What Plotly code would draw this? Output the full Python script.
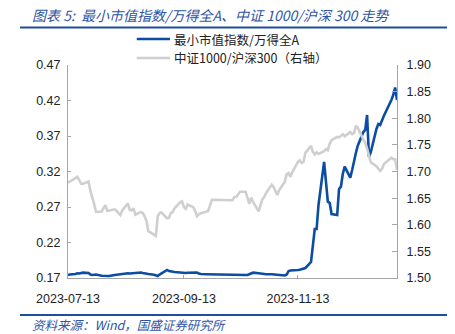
import pandas as pd
import plotly.graph_objects as go

# Trading calendar: weekdays from 2023-07-13 to 2024-01-05, minus exchange holidays
holidays = ["2023-09-29", "2023-10-02", "2023-10-03", "2023-10-04",
            "2023-10-05", "2023-10-06", "2024-01-01"]
dates = [d for d in pd.bdate_range("2023-07-13", "2024-01-05")
         if d.strftime("%Y-%m-%d") not in holidays]

# 最小市值指数/万得全A (left axis)
ratio_small = [
    0.1742, 0.1749, 0.1756, 0.1766, 0.1763, 0.1770, 0.1775, 0.1770, 0.1749, 0.1742, 0.1742, 0.1749, 0.1732,
    0.1732, 0.1728, 0.1728, 0.1728, 0.1742, 0.1746, 0.1749, 0.1753, 0.1756, 0.1766, 0.1763, 0.1766, 0.1770,
    0.1777, 0.1777, 0.1770, 0.1763, 0.1761, 0.1756, 0.1746, 0.1735, 0.1728, 0.1749,
    0.1766, 0.1813, 0.1798, 0.1791, 0.1789, 0.1784, 0.1777, 0.1773, 0.1766, 0.1770, 0.1775, 0.1780, 0.1780,
    0.1777, 0.1763, 0.1756, 0.1753, 0.1752, 0.1752, 0.1752,
    0.1745, 0.1742, 0.1742, 0.1738, 0.1738, 0.1742, 0.1742, 0.1756, 0.1770, 0.1775, 0.1766, 0.1761, 0.1756,
    0.1756, 0.1753, 0.1752, 0.1749,
    0.1749, 0.1752, 0.1745, 0.1735, 0.1749, 0.1798, 0.1806, 0.1806, 0.1813, 0.1817, 0.1827, 0.1834, 0.1841,
    0.1925, 0.2179, 0.2390, 0.2390, 0.2728, 0.3334, 0.3010, 0.2775, 0.2756,
    0.2601, 0.2587, 0.2954, 0.2986, 0.3165, 0.3268, 0.3113, 0.3221, 0.3362, 0.3461, 0.3563, 0.3756, 0.3785,
    0.3996, 0.3404, 0.3475, 0.3799, 0.3869, 0.3855, 0.3925, 0.3986,
    0.4207, 0.4277, 0.4383, 0.4207,
]

# 中证1000/沪深300 (right axis)
ratio_csi = [
    1.679, 1.681, 1.688, 1.690, 1.684, 1.677, 1.677, 1.681, 1.663, 1.652, 1.639, 1.624, 1.625,
    1.631, 1.637, 1.626, 1.627, 1.629, 1.626, 1.621, 1.618, 1.627, 1.640, 1.628, 1.627, 1.631,
    1.619, 1.624, 1.622, 1.616, 1.607, 1.588, 1.581, 1.579, 1.616, 1.622,
    1.623, 1.612, 1.613, 1.622, 1.624, 1.631, 1.642, 1.644, 1.633, 1.630, 1.638, 1.633, 1.626,
    1.616, 1.620, 1.621, 1.624, 1.626, 1.637, 1.647,
    1.646, 1.652, 1.652, 1.658, 1.662, 1.662, 1.650, 1.639, 1.651, 1.643, 1.625, 1.639, 1.648,
    1.652, 1.660, 1.675, 1.671,
    1.663, 1.656, 1.665, 1.681, 1.695, 1.697, 1.690, 1.699, 1.718, 1.721, 1.716, 1.718, 1.735,
    1.748, 1.737, 1.732, 1.736, 1.733, 1.738, 1.742, 1.740, 1.752,
    1.759, 1.765, 1.764, 1.767, 1.770, 1.766, 1.774, 1.770, 1.772, 1.786, 1.782, 1.760, 1.754,
    1.743, 1.729, 1.717, 1.710, 1.705, 1.701, 1.705, 1.714,
    1.726, 1.723, 1.723, 1.703,
]

series_names = ["最小市值指数/万得全A", "中证1000/沪深300（右轴）"]
x_ticks = ["2023-07-13", "2023-09-13", "2023-11-13"]
left_ticks = [0.17, 0.22, 0.27, 0.32, 0.37, 0.42, 0.47]
right_ticks = [1.50, 1.55, 1.60, 1.65, 1.70, 1.75, 1.80, 1.85, 1.90]

BLUE = "#0B4DA2"
GREY = "#CFCFCF"
TEXT_BLUE = "#2F55A4"
RULE = "#1F4E9E"
AXIS = "#A6A6A6"
NUM_FONT = dict(family="Liberation Sans, Arial, sans-serif", size=12.5, color="#222222")
CJK = "Noto Sans CJK SC"

fig = go.Figure()
fig.add_trace(go.Scatter(x=dates, y=ratio_small, mode="lines", name=series_names[0],
                         line=dict(color=BLUE, width=2.6), yaxis="y"))
fig.add_trace(go.Scatter(x=dates, y=ratio_csi, mode="lines", name=series_names[1],
                         line=dict(color=GREY, width=2.6), yaxis="y2"))

fig.update_layout(
    width=455, height=334,
    margin=dict(l=68, r=58, t=65, b=56),
    paper_bgcolor="white", plot_bgcolor="white",
    showlegend=False,
    xaxis=dict(type="date", range=["2023-07-13", "2024-01-05"],
               tickvals=x_ticks, ticktext=x_ticks, tickfont=NUM_FONT,
               showgrid=False, showline=True, linecolor=AXIS, linewidth=1,
               ticks="inside", ticklen=3, tickcolor=AXIS, zeroline=False,
               ticklabelstandoff=9),
    yaxis=dict(range=[0.17, 0.47], tickvals=left_ticks, tickformat=".2f", tickfont=NUM_FONT,
               showgrid=False, showline=True, linecolor=AXIS, linewidth=1,
               ticks="inside", ticklen=3, tickcolor=AXIS, zeroline=False,
               ticklabelstandoff=4),
    yaxis2=dict(range=[1.50, 1.90], tickvals=right_ticks, tickformat=".2f", tickfont=NUM_FONT,
                overlaying="y", side="right",
                showgrid=False, showline=True, linecolor=AXIS, linewidth=1,
                ticks="inside", ticklen=5, tickcolor=AXIS, zeroline=False,
                ticklabelstandoff=6),
)

# Legend drawn as line samples with labels above the plot area
legend_rows = [(series_names[0], BLUE, 1.122), (series_names[1], GREY, 1.033)]
for label, color, yy in legend_rows:
    fig.add_shape(type="line", xref="paper", yref="paper", x0=0.209, x1=0.310, y0=yy, y1=yy,
                  line=dict(color=color, width=2.6))
    fig.add_annotation(text=label, xref="paper", yref="paper", x=0.316, y=yy,
                       xanchor="left", yanchor="middle", showarrow=False,
                       font=dict(family=CJK, size=12.5, color="#222222"))

# Header and source rules
fig.add_shape(type="line", xref="paper", yref="paper",
              x0=-0.146, x1=1.152, y0=1.176, y1=1.176,
              line=dict(color=RULE, width=2))
fig.add_shape(type="line", xref="paper", yref="paper",
              x0=-0.146, x1=1.152, y0=-0.174, y1=-0.174,
              line=dict(color=RULE, width=2))

fig.add_annotation(text="图表 5:  最小市值指数/万得全A、中证 1000/沪深 300 走势",
                   xref="paper", yref="paper", x=-0.116, y=1.235, xanchor="left", yanchor="middle",
                   showarrow=False, font=dict(family=CJK, size=14, color=TEXT_BLUE, style="italic"))
fig.add_annotation(text="资料来源：Wind，国盛证券研究所",
                   xref="paper", yref="paper", x=-0.116, y=-0.218, xanchor="left", yanchor="middle",
                   showarrow=False, font=dict(family=CJK, size=12.5, color=TEXT_BLUE, style="italic"))

fig.write_html("out.html")
